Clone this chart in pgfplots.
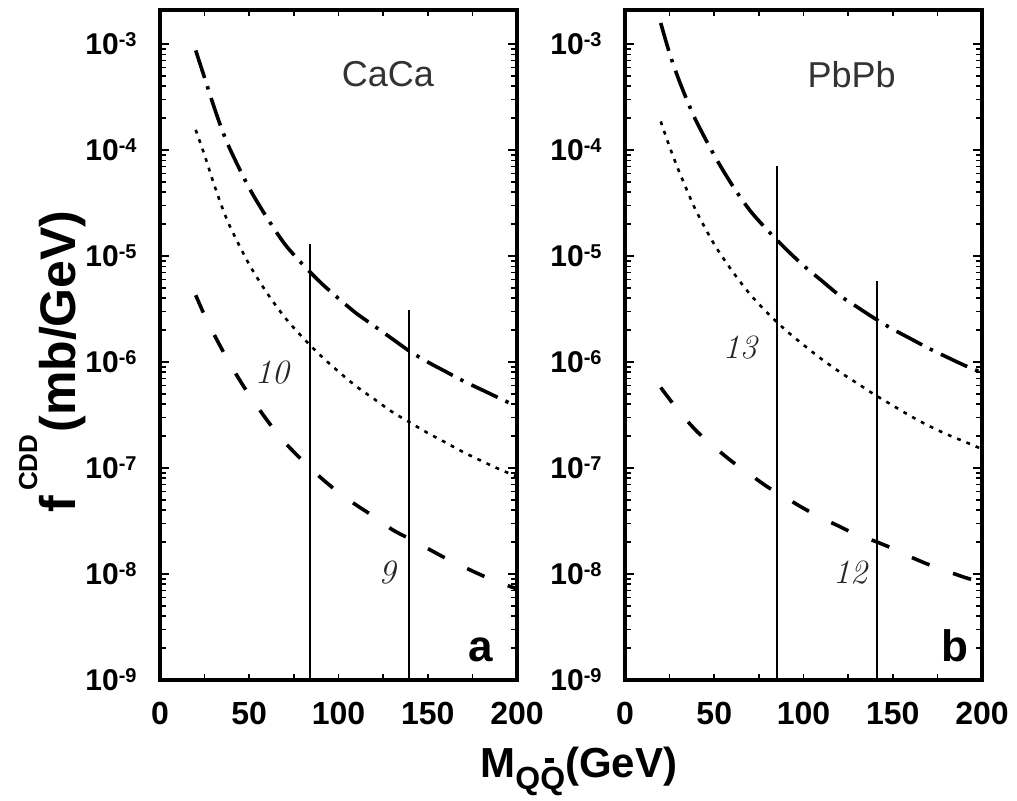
\documentclass[border=0pt]{standalone}
\usepackage{pgfplots}
\pgfplotsset{compat=1.18}
\usepackage{fontspec}
\newfontfamily\hv{Liberation Sans}
\definecolor{txtgray}{HTML}{333333}
\newcommand\sups[1]{\raisebox{4pt}{\fontsize{10}{10}\selectfont #1}}
\newcommand\tl[1]{10\sups{-#1}}
\newcommand\qbar{\makebox[0pt][l]{\hspace{0.14em}\rule[0.82em]{0.3em}{0.15em}}Q}
\pgfplotsset{
  panel/.style={
    anchor=south west, scale only axis, width=178.5pt, height=335pt,
    xmin=0, xmax=200, ymin=1e-9, ymax=2.094e-3,
    axis line style={line width=2pt},
    tick align=inside, xtick pos=both, ytick pos=both,
    xtick={0,50,100,150,200}, xticklabels={0,50,100,150,200},
    minor xtick={0,25,50,75,100,125,150,175,200},
    major x tick style={draw=none},
    ytick={1e-9,1e-8,1e-7,1e-6,1e-5,1e-4,1e-3},
    yticklabels={\tl{9},\tl{8},\tl{7},\tl{6},\tl{5},\tl{4},\tl{3}},
    minor ytick={2e-9,3e-9,4e-9,5e-9,6e-9,7e-9,8e-9,9e-9,
                 2e-8,3e-8,4e-8,5e-8,6e-8,7e-8,8e-8,9e-8,
                 2e-7,3e-7,4e-7,5e-7,6e-7,7e-7,8e-7,9e-7,
                 2e-6,3e-6,4e-6,5e-6,6e-6,7e-6,8e-6,9e-6,
                 2e-5,3e-5,4e-5,5e-5,6e-5,7e-5,8e-5,9e-5,
                 2e-4,3e-4,4e-4,5e-4,6e-4,7e-4,8e-4,9e-4},
    major tick length=4.6pt, minor tick length=2.8pt,
    tick style={draw=black, line width=0.8pt, solid},
    xticklabel style={font=\fontsize{16}{16}\hv\bfseries, anchor=north, inner sep=0pt, yshift=-11pt},
    yticklabel style={font=\fontsize{15}{15}\hv\bfseries, anchor=base east, inner sep=0pt, xshift=-11.5pt, yshift=-5.4pt},
  },
  dd/.style={black, line width=1.8pt, dash pattern=on 14.5pt off 4.3pt on 1.7pt off 4.5pt, smooth},
  dt/.style={black, line width=1.3pt, dash pattern=on 1.9pt off 3.1pt, smooth},
  ds/.style={black, line width=1.8pt, dash pattern=on 9.5pt off 12.5pt, smooth},
  vl/.style={black, line width=1pt},
}
\begin{document}
\begin{tikzpicture}
\useasboundingbox (0pt,0pt) rectangle (508.5pt,400pt);
% ---------------- left panel: CaCa
\begin{semilogyaxis}[panel, at={(80pt,60pt)}]
\addplot[dd] coordinates {(20,8.71e-4) (25,4.79e-4) (30,2.63e-4) (35,1.51e-4) (40,9.55e-5) (50,4.37e-5) (60,2.29e-5) (70,1.29e-5) (80,8.32e-6) (90,5.62e-6) (100,3.98e-6) (110,2.88e-6) (120,2.19e-6) (130,1.66e-6) (140,1.26e-6) (150,1.0e-6) (160,8.13e-7) (170,6.61e-7) (180,5.50e-7) (190,4.57e-7) (200,3.80e-7)};
\addplot[dt] coordinates {(20,1.55e-4) (25,8.91e-5) (30,4.90e-5) (35,2.82e-5) (40,1.78e-5) (50,8.32e-6) (60,4.47e-6) (70,2.63e-6) (80,1.70e-6) (90,1.15e-6) (100,8.13e-7) (110,5.89e-7) (120,4.47e-7) (130,3.39e-7) (140,2.69e-7) (150,2.14e-7) (160,1.74e-7) (170,1.41e-7) (180,1.17e-7) (190,9.77e-8) (200,8.32e-8)};
\addplot[ds] coordinates {(20,4.27e-6) (25,2.75e-6) (30,1.86e-6) (35,1.29e-6) (40,9.12e-7) (45,6.61e-7) (50,4.90e-7) (60,2.82e-7) (70,1.74e-7) (80,1.17e-7) (90,8.13e-8) (100,5.89e-8) (110,4.47e-8) (120,3.47e-8) (130,2.63e-8) (140,2.14e-8) (150,1.74e-8) (160,1.41e-8) (170,1.17e-8) (180,9.77e-9) (190,8.32e-9) (200,7.24e-9)};
\addplot[vl] coordinates {(84,1e-9) (84,1.3e-5)};
\addplot[vl] coordinates {(139.3,1e-9) (139.3,3.1e-6)};
\node[txtgray, font=\fontsize{18}{18}\hv] at (axis cs:127.7,5.2e-4) {CaCa};
\node[black!85, font=\fontsize{17}{17}\selectfont\itshape] at (axis cs:62.7,7.9e-7) {10};
\node[black!85, font=\fontsize{17}{17}\selectfont\itshape] at (axis cs:127.2,1.04e-8) {9};
\node[font=\fontsize{22}{22}\hv\bfseries, inner sep=0pt] at (axis cs:179.8,1.92e-9) {a};
\end{semilogyaxis}
% ---------------- right panel: PbPb
\begin{semilogyaxis}[panel, at={(312.5pt,60pt)}]
\addplot[dd] coordinates {(20,1.58e-3) (25,8.13e-4) (30,4.68e-4) (35,2.88e-4) (40,1.86e-4) (50,8.91e-5) (60,4.68e-5) (70,2.69e-5) (80,1.74e-5) (90,1.17e-5) (100,8.13e-6) (110,5.89e-6) (120,4.27e-6) (130,3.31e-6) (140,2.57e-6) (150,2.04e-6) (160,1.66e-6) (170,1.35e-6) (180,1.12e-6) (190,9.33e-7) (200,7.94e-7)};
\addplot[dt] coordinates {(20,1.86e-4) (25,1.07e-4) (30,6.46e-5) (35,4.07e-5) (40,2.63e-5) (50,1.29e-5) (60,7.24e-6) (70,4.37e-6) (80,2.88e-6) (90,2.0e-6) (100,1.45e-6) (110,1.07e-6) (120,8.13e-7) (130,6.31e-7) (140,4.90e-7) (150,3.89e-7) (160,3.09e-7) (170,2.51e-7) (180,2.09e-7) (190,1.78e-7) (200,1.51e-7)};
\addplot[ds] coordinates {(20,5.75e-7) (30,3.47e-7) (40,2.24e-7) (50,1.58e-7) (60,1.15e-7) (70,8.71e-8) (80,6.61e-8) (90,5.25e-8) (100,4.17e-8) (110,3.39e-8) (120,2.82e-8) (130,2.34e-8) (140,2.04e-8) (150,1.74e-8) (160,1.45e-8) (170,1.23e-8) (180,1.07e-8) (190,9.33e-9) (200,8.32e-9)};
\addplot[vl] coordinates {(85.3,1e-9) (85.3,7e-5)};
\addplot[vl] coordinates {(141.3,1e-9) (141.3,5.8e-6)};
\node[txtgray, font=\fontsize{18}{18}\hv] at (axis cs:127,5.2e-4) {PbPb};
\node[black!85, font=\fontsize{17}{17}\selectfont\itshape] at (axis cs:64.4,1.36e-6) {13};
\node[black!85, font=\fontsize{17}{17}\selectfont\itshape] at (axis cs:126.1,1.04e-8) {12};
\node[font=\fontsize{22}{22}\hv\bfseries, inner sep=0pt] at (axis cs:184.9,2.09e-9) {b};
\end{semilogyaxis}
% axis labels
\node[rotate=90, anchor=base west, inner sep=0pt] at (37.5pt,143.5pt)
  {\fontsize{25}{25}\hv\bfseries f\hspace{2.5pt}\raisebox{19pt}{\fontsize{13}{13}\selectfont CDD}\hspace{1pt}(mb/GeV)};
\node[anchor=base west, inner sep=0pt] at (240pt,11.5pt)
  {\fontsize{21}{21}\hv\bfseries M\raisebox{-6pt}{\fontsize{16}{16}\selectfont Q\qbar}(GeV)};
\end{tikzpicture}
\end{document}
